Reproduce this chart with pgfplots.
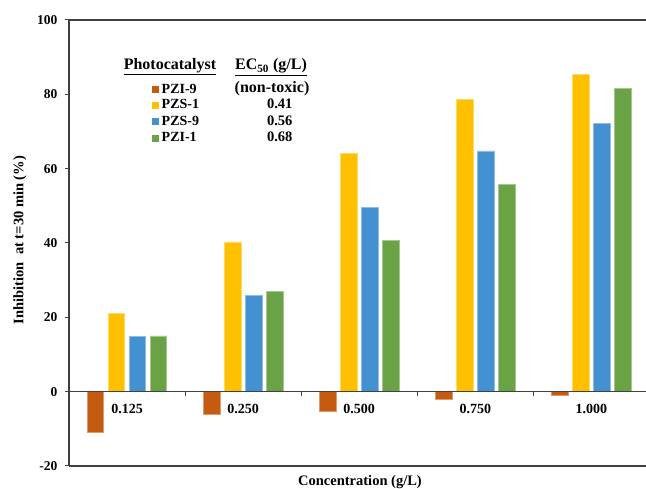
\documentclass[border=0pt]{standalone}
\usepackage{fontspec}
\setmainfont{Liberation Serif}
\usepackage{pgfplots}
\pgfplotsset{compat=1.18}
\definecolor{cRed}{HTML}{C55A11}
\definecolor{cYel}{HTML}{FFC000}
\definecolor{cBlu}{HTML}{4391D0}
\definecolor{cGrn}{HTML}{6AA246}
\definecolor{axc}{HTML}{404040}
\begin{document}
\begin{tikzpicture}
\path[use as bounding box] (0pt,0pt) rectangle (646pt,488pt);
\begin{axis}[
  at={(69pt,22pt)}, anchor=south west, scale only axis,
  width=577pt, height=446pt,
  xmin=-0.5, xmax=4.47, ymin=-20, ymax=100,
  axis x line*=box, axis y line*=left,
  axis line style={-, axc, line width=1.3pt},
  xtick=\empty, ytick={-20,0,20,40,60,80,100},
  tick align=outside, major tick length=4pt,
  tick style={axc, line width=1pt},
  /pgf/number format/assume math mode=true,
  y tick label style={font=\fontsize{13.5}{14}\selectfont\bfseries, xshift=-4pt},
  ybar=4.5pt, bar width=16.5pt,
  clip=false,
]
\addplot[fill=cRed, draw=cRed!60!white, line width=0.6pt] coordinates {(0,-10.8) (1,-6.05) (2,-5.4) (3,-2.0) (4,-1.0)};
\addplot[fill=cYel, draw=cYel!60!white, line width=0.6pt] coordinates {(0,21.1) (1,40.3) (2,64.2) (3,78.6) (4,85.4)};
\addplot[fill=cBlu, draw=cBlu!60!white, line width=0.6pt] coordinates {(0,14.8) (1,25.8) (2,49.5) (3,64.8) (4,72.2)};
\addplot[fill=cGrn, draw=cGrn!60!white, line width=0.6pt] coordinates {(0,15.0) (1,26.9) (2,40.8) (3,55.7) (4,81.6)};
\draw[axc, line width=1.3pt] (axis cs:-0.5,0) -- (axis cs:4.47,0);
\pgfplotsinvokeforeach{0.5,1.5,2.5,3.5}{\draw[axc, line width=1pt] (axis cs:#1,0) -- ++(0pt,-4pt);}
\node[font=\fontsize{14}{14}\selectfont\bfseries] at (axis cs:0,0) [yshift=-17.5pt] {0.125};
\node[font=\fontsize{14}{14}\selectfont\bfseries] at (axis cs:1,0) [yshift=-17.5pt] {0.250};
\node[font=\fontsize{14}{14}\selectfont\bfseries] at (axis cs:2,0) [yshift=-17.5pt] {0.500};
\node[font=\fontsize{14}{14}\selectfont\bfseries] at (axis cs:3,0) [yshift=-17.5pt] {0.750};
\node[font=\fontsize{14}{14}\selectfont\bfseries] at (axis cs:4,0) [yshift=-17.5pt] {1.000};
\end{axis}
% axis titles
\node[font=\fontsize{14.5}{15}\selectfont\bfseries, rotate=90] at (20pt,248pt) {Inhibition\ \ at t=30 min (\%)};
\node[font=\fontsize{14.5}{15}\selectfont\bfseries] at (360pt,6pt) {Concentration (g/L)};
% legend block
\node[font=\fontsize{16}{17}\selectfont\bfseries] at (170pt,421pt) {\underline{Photocatalyst}};
\node[font=\fontsize{16}{17}\selectfont\bfseries] at (271pt,421pt) {\underline{EC\textsubscript{50} (g/L)}};
\node[font=\fontsize{14}{15}\selectfont\bfseries, anchor=west, inner sep=0pt] at (151.5pt,399.5pt) {\textcolor{cRed}{\rule{7pt}{7pt}}\hspace{3pt}PZI-9};
\node[font=\fontsize{14}{15}\selectfont\bfseries, anchor=west, inner sep=0pt] at (151.5pt,383.8pt) {\textcolor{cYel}{\rule{7pt}{7pt}}\hspace{3pt}PZS-1};
\node[font=\fontsize{14}{15}\selectfont\bfseries, anchor=west, inner sep=0pt] at (151.5pt,367.2pt) {\textcolor{cBlu}{\rule{7pt}{7pt}}\hspace{3pt}PZS-9};
\node[font=\fontsize{14}{15}\selectfont\bfseries, anchor=west, inner sep=0pt] at (151.5pt,350.8pt) {\textcolor{cGrn}{\rule{7pt}{7pt}}\hspace{3pt}PZI-1};
\node[font=\fontsize{16}{17}\selectfont\bfseries] at (272pt,399.5pt) {(non-toxic)};
\node[font=\fontsize{14.5}{15}\selectfont\bfseries] at (279.7pt,383.8pt) {0.41};
\node[font=\fontsize{14.5}{15}\selectfont\bfseries] at (279.7pt,367.2pt) {0.56};
\node[font=\fontsize{14.5}{15}\selectfont\bfseries] at (279.7pt,350.8pt) {0.68};
\end{tikzpicture}
\end{document}
